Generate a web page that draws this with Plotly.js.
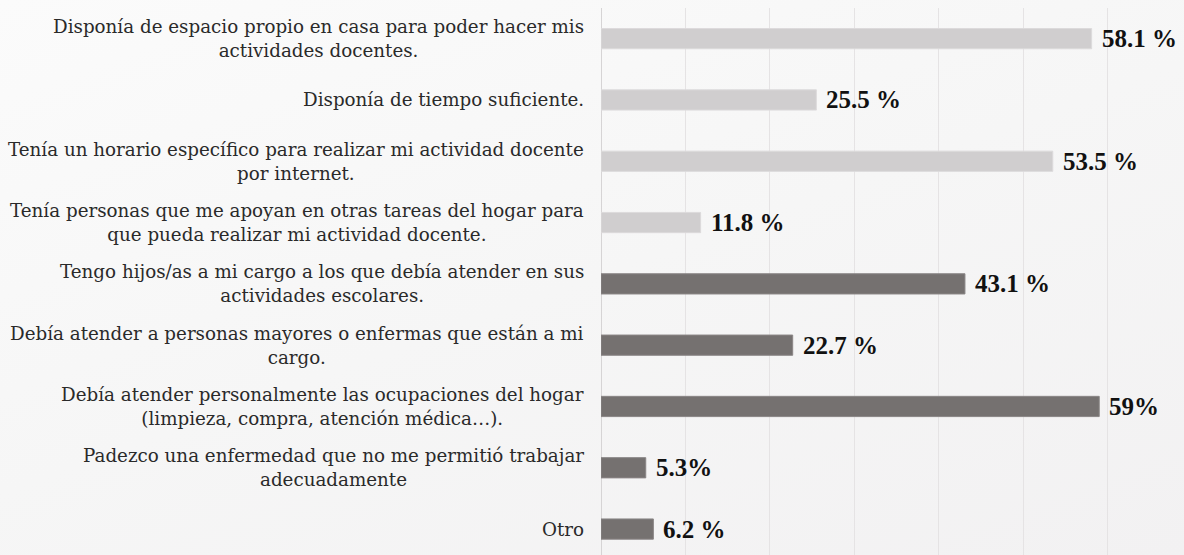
<!DOCTYPE html>
<html>
<head>
<meta charset="utf-8">
<script src="https://cdn.plot.ly/plotly-3.0.1.min.js"></script>
<style>
  html, body { margin: 0; padding: 0; overflow: hidden; }
  body { width: 1184px; height: 555px; background: linear-gradient(160deg, #fbfbfb 0%, #f6f6f6 50%, #f2f1f2 100%); }
  #chart { width: 1184px; height: 555px; }
</style>
</head>
<body>
<div id="chart"></div>
<script>
const categories = [
  "Disponía de espacio propio en casa para poder hacer mis<br>actividades docentes.",
  "Disponía de tiempo suficiente.",
  "Tenía un horario específico para realizar mi actividad docente<br>por internet.",
  "Tenía personas que me apoyan en otras tareas del hogar para<br>que pueda realizar mi actividad docente.",
  "Tengo hijos/as a mi cargo a los que debía atender en sus<br>actividades escolares.",
  "Debía atender a personas mayores o enfermas que están a mi<br>cargo.",
  "Debía atender personalmente las ocupaciones del hogar<br>(limpieza, compra, atención médica…).",
  "Padezco una enfermedad que no me permitió trabajar<br>adecuadamente",
  "Otro"
];
const values = [58.1, 25.5, 53.5, 11.8, 43.1, 22.7, 59, 5.3, 6.2];
const valueLabels = ["58.1 %", "25.5 %", "53.5 %", "11.8 %", "43.1 %", "22.7 %", "59%", "5.3%", "6.2 %"];
const groups = ["light", "light", "light", "light", "dark", "dark", "dark", "dark", "dark"];

const colorMap = { light: "#d0cecf", dark: "#757170" };
const lineMap = { light: "#dcdadb", dark: "#8a8686" };
const serifCat = "DejaVu Serif, serif";
const serifVal = "Liberation Serif, DejaVu Serif, serif";

const trace = {
  type: "bar",
  orientation: "h",
  x: values,
  y: categories,
  width: 0.33,
  marker: {
    color: groups.map(g => colorMap[g]),
    line: { color: groups.map(g => lineMap[g]), width: 1 }
  },
  hoverinfo: "skip"
};

const annotations = [];
categories.forEach((c, i) => {
  annotations.push({
    xref: "paper", x: 0, xanchor: "right", xshift: -15,
    yref: "y", y: c, yanchor: "middle",
    text: c, showarrow: false, align: "center",
    font: { family: serifCat, size: 18.3, color: "#2a2a2a" }
  });
  annotations.push({
    xref: "x", x: values[i], xanchor: "left", xshift: 8,
    yref: "y", y: c, yanchor: "middle",
    text: "<b>" + valueLabels[i] + "</b>", showarrow: false,
    font: { family: serifVal, size: 25, color: "#111111" }
  });
});

const layout = {
  width: 1184,
  height: 555,
  margin: { l: 601, r: 0, t: 8, b: 0, pad: 0 },
  paper_bgcolor: "rgba(0,0,0,0)",
  plot_bgcolor: "rgba(0,0,0,0)",
  showlegend: false,
  xaxis: {
    range: [0, 69.04],
    dtick: 10,
    tick0: 0,
    showgrid: true,
    gridcolor: "#e5e3e4",
    gridwidth: 1,
    zeroline: true,
    zerolinecolor: "#d6d4d5",
    zerolinewidth: 1,
    showticklabels: false,
    ticks: "",
    showline: false,
    fixedrange: true
  },
  yaxis: {
    type: "category",
    range: [8.423, -0.5],
    autorange: false,
    showticklabels: false,
    ticks: "",
    showgrid: false,
    zeroline: false,
    showline: false,
    fixedrange: true
  },
  annotations: annotations
};

Plotly.newPlot("chart", [trace], layout, { displayModeBar: false, staticPlot: true });
</script>
</body>
</html>
